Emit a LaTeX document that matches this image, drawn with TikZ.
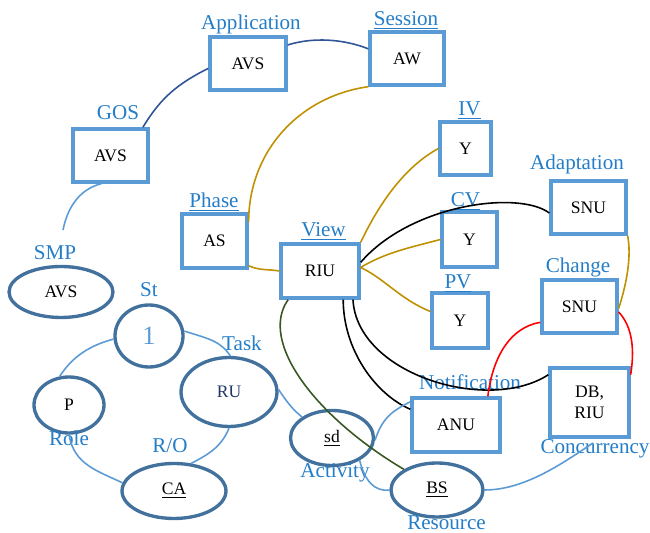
\documentclass[tikz,border=0pt]{standalone}
\usepackage{fontspec}
\setmainfont{Liberation Serif}
\usepackage{tikz}
\usetikzlibrary{arrows,shapes}
\usepackage{xcolor}
\definecolor{mdbox}{RGB}{91,155,213}
\definecolor{mdring}{RGB}{65,113,156}
\definecolor{mdlabel}{RGB}{35,125,200}
\definecolor{mdnavy}{RGB}{47,85,151}
\definecolor{mdgold}{RGB}{191,144,0}
\definecolor{mdgreen}{RGB}{56,87,35}
\definecolor{mdtext}{RGB}{31,56,100}
\tikzstyle{box} = [draw=mdbox, line width=1.9pt, rectangle, minimum width=1.5cm, minimum height=1.06cm, inner sep=0pt, align=center, font=\fontsize{10}{12}\selectfont]
\tikzstyle{ring} = [draw=mdring, line width=1.9pt, ellipse, inner sep=0pt, font=\fontsize{10}{12}\selectfont]
\tikzstyle{lbl} = [text=mdlabel, inner sep=0pt, anchor=base, font=\fontsize{12}{14}\selectfont]
\tikzstyle{link} = [line width=0.9pt]

\begin{document}
\begin{tikzpicture}[x=0.02cm, y=-0.02cm]
\useasboundingbox (0,0) rectangle (650,533);

% boxes
\node[box, minimum width=1.52cm] (app) at (248,63.5) {AVS};
\node[box, minimum width=1.48cm] (ses) at (407,58.5) {AW};
\node[box] (gos) at (110.5,155.5) {AVS};
\node[box, minimum width=1.3cm, minimum height=1.08cm] (pha) at (214.5,241) {AS};
\node[box, minimum width=1.56cm, minimum height=1.08cm] (vie) at (320,271) {RIU};
\node[box, minimum width=1.02cm] (iv) at (465.5,148.5) {Y};
\node[box, minimum width=1.1cm, minimum height=1.1cm] (cv) at (469.5,239.5) {Y};
\node[box, minimum width=1.12cm, minimum height=1.1cm] (pv) at (460,320.5) {Y};
\node[box] (ada) at (588.5,207.5) {SNU};
\node[box] (cha) at (579.5,306.5) {SNU};
\node[box, minimum width=1.58cm, minimum height=1.38cm] (con) at (589.5,402.5) {DB,\\RIU};
\node[box, minimum width=1.76cm, minimum height=1.08cm] (noti) at (456,425) {ANU};

% ellipses
\node[ring, minimum width=2.08cm, minimum height=1.02cm] (smp) at (61,292) {AVS};
\node[ring, minimum width=1.36cm, minimum height=1.24cm, text=mdbox, font=\fontsize{15}{18}\selectfont] (st) at (149,336) {1};
\node[ring, minimum width=1.92cm, minimum height=1.38cm, text=mdtext] (task) at (229,392) {RU};
\node[ring, minimum width=1.4cm, minimum height=1.12cm] (role) at (69,405) {P};
\node[ring, minimum width=2.08cm, minimum height=1.1cm] (ro) at (174,491) {\underline{CA}};
\node[ring, minimum width=1.66cm, minimum height=1.1cm] (act) at (332,438) {\underline{sd}};
\node[ring, minimum width=1.84cm, minimum height=1.08cm] (res) at (437,490) {\underline{BS}};

% labels
\node[lbl] (applbl) at (251,30) {Application};
\node[lbl] (seslbl) at (406,26) {\underline{Session}};
\node[lbl] (goslbl) at (118,120) {GOS};
\node[lbl] (phalbl) at (214,208) {\underline{Phase}};
\node[lbl] (vielbl) at (323.5,237) {\underline{View}};
\node[lbl] (ivlbl) at (469.5,116) {\underline{IV}};
\node[lbl] (cvlbl) at (465.5,207) {\underline{CV}};
\node[lbl] (pvlbl) at (458,289) {\underline{PV}};
\node[lbl] (adalbl) at (577,170) {Adaptation};
\node[lbl] (chalbl) at (578,273) {Change};
\node[lbl] (notilbl) at (470,390) {Notification};
\node[lbl] (conlbl) at (595,454) {Concurrency};
\node[lbl] (smplbl) at (55,260) {SMP};
\node[lbl] (stlbl) at (149,297) {St};
\node[lbl] (tasklbl) at (242,351) {Task};
\node[lbl] (rolelbl) at (69,446) {Role};
\node[lbl] (rolbl) at (170,453) {R/O};
\node[lbl] (actlbl) at (335,478) {Activity};
\node[lbl] (reslbl) at (446.5,530) {Resource};

\coordinate (smptop) at (63,230);
\coordinate (contail) at (593,443);

% connectors
\draw[link, mdnavy] (gos.41) .. controls +(18,-30) and +(-30,15) .. (app.187);
\draw[link, mdnavy] (app.25) .. controls +(25,-8) and +(-25,-10) .. (ses.166);
\draw[link, mdbox] (smptop) .. controls +(5,-25) and +(-20,5) .. (gos.252);
\draw[link, mdgold] (ses.south west) .. controls +(-70,10) and +(0,-70) .. (pha.29);
\draw[link, mdgold] (pha.-36) .. controls +(12,5) and +(-12,-2) .. (vie.west);
\draw[link, mdgold] (vie.north east) .. controls +(21,-44) and +(-31,17) .. (iv.west);
\draw[link, mdgold] (vie.5) .. controls +(25,-15) and +(-30,8) .. (cv.west);
\draw[link, mdgold] (vie.5) .. controls +(25,12) and +(-30,-12) .. (pv.163);
\draw[link, black] (vie.12) .. controls +(50,-58) and +(-31,-23) .. (ada.188);
\draw[link, black] (vie.-51) .. controls +(0,50) and +(-35,-15) .. (noti.161);
\draw[link, black] (vie.-41) .. controls +(4,75) and +(-60,39) .. (con.146);
\draw[link, mdgold] (ada.south east) .. controls +(4,21) and +(8,-25) .. (cha.-3);
\draw[link, red] (cha.202) .. controls +(-30,5) and +(5,-40) .. (noti.42);
\draw[link, red] (cha.-8) .. controls +(14,15) and +(4,-25) .. (con.34);
\draw[link, mdgreen] (vie.222) .. controls +(-30,42) and +(-88,-52) .. (res.148);
\draw[link, mdbox] (st.185) .. controls +(-30,8) and +(10,-15) .. (role.108);
\draw[link, mdbox] (st.8) .. controls +(25,8) and +(-10,-15) .. (task.88);
\draw[link, mdbox] (role.south) .. controls +(5,30) and +(-25,-12) .. (ro.171);
\draw[link, mdbox] (task.south) .. controls +(-8,20) and +(15,-8) .. (ro.58);
\draw[link, mdbox] (task.3) .. controls +(8,12) and +(-10,-8) .. (act.145);
\draw[link, mdbox] (act.-3) .. controls +(8,-25) and +(-15,8) .. (noti.153);
\draw[link, mdbox] (act.-39) .. controls +(5,20) and +(-15,2) .. (res.west);
\draw[link, mdbox] (res.east) .. controls +(40,0) and +(-30,20) .. (contail);
\end{tikzpicture}
\end{document}
